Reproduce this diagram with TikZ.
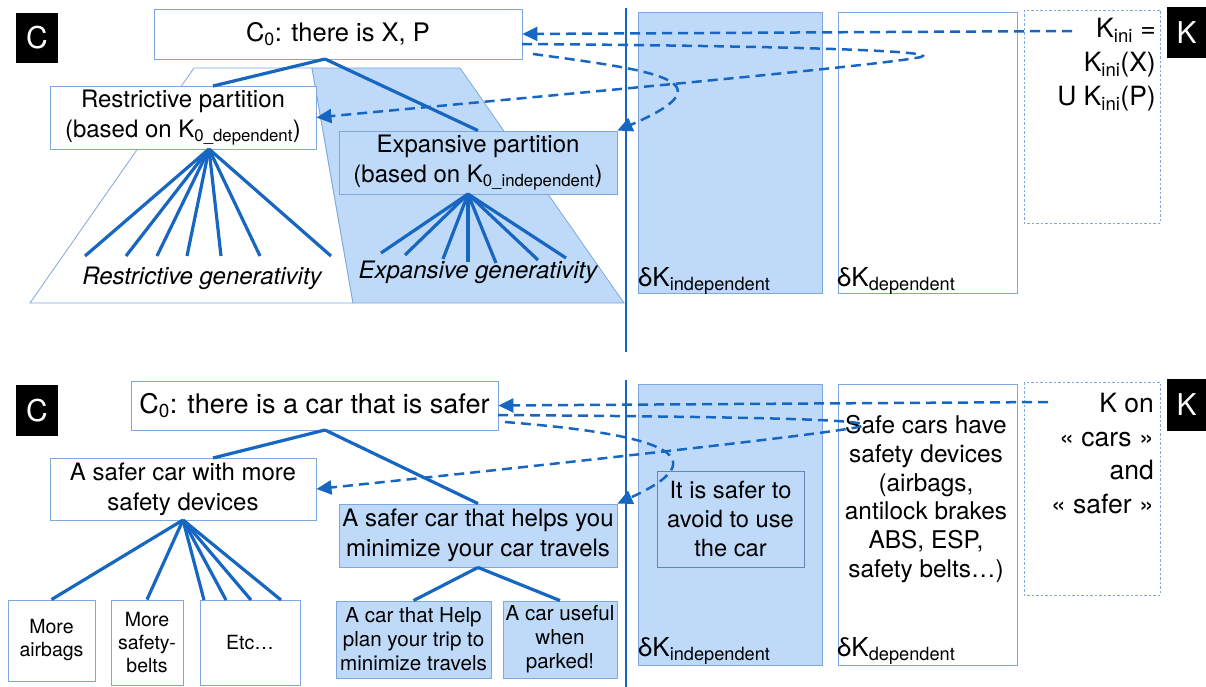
\documentclass[tikz,border=0pt]{standalone}
\usepackage{fontspec}
\setmainfont{TeX Gyre Heros}
\usetikzlibrary{arrows.meta}
\definecolor{lineblue}{RGB}{22,102,194}
\definecolor{fillblue}{RGB}{190,218,248}
\definecolor{borderblue}{RGB}{125,168,222}
\tikzset{
  wbox/.style={draw=borderblue, line width=0.9pt, fill=white, inner sep=0pt, align=center},
  bbox/.style={draw=borderblue, line width=0.9pt, fill=fillblue, inner sep=0pt, align=center},
  blk/.style={fill=black, text=white, inner sep=0pt, font=\fontsize{30}{32}\selectfont},
  solidline/.style={draw=lineblue, line width=3.2pt},
  dashline/.style={draw=lineblue, line width=2.5pt, dash pattern=on 10pt off 6pt},
  dasharrow/.style={dashline, -{Triangle[length=15pt,width=14pt]}},
  kbox/.style={draw=borderblue, line width=0.8pt, dash pattern=on 2.5pt off 2pt},
  t24/.style={font=\fontsize{24}{30}\selectfont},
}
\begin{document}
\begin{tikzpicture}[x=1pt,y=-1pt]
\useasboundingbox (0,0) rectangle (1206,687);
% ================= TOP PANEL =================
\path[draw=borderblue, line width=0.8pt, fill=white] (194,68) -- (312,68) -- (353,303) -- (30,303) -- cycle;
\path[draw=borderblue, line width=0.8pt, fill=fillblue] (312,68) -- (460,68) -- (624,303) -- (353,303) -- cycle;

\node[blk, minimum width=42pt, minimum height=50pt] (ctop) at (37,38) {C};
\node[wbox, font=\fontsize{25.5}{30}\selectfont, minimum width=368pt, minimum height=50pt] (c0t) at (338,34) {C\textsubscript{0}: there is X, P};
\node[wbox, t24, minimum width=266pt, minimum height=63pt] (rp) at (183,117.5) {Restrictive partition\\(based on K\textsubscript{0\_dependent})};
\node[bbox, t24, minimum width=278pt, minimum height=63pt] (ep) at (478,162.5) {Expansive partition\\(based on K\textsubscript{0\_independent})};

\coordinate (c0tb) at (325,59);
\coordinate (rpt) at (213,86);
\draw[solidline] (c0tb) -- (rpt);
\draw[solidline] (c0tb) -- (ep.north);

\coordinate (rpb) at (209,149);
\foreach \x/\y [count=\i] in {85/256,126/256,157/256,187/256,221/256,260/256,331/256}{
  \coordinate (rf\i) at (\x,\y);
  \draw[solidline] (rpb) -- (rf\i);
}
\coordinate (epb) at (468,194);
\foreach \x/\y [count=\i] in {381/253,405/255,443/259,468/262,496/263,538/260,566/258}{
  \coordinate (ef\i) at (\x,\y);
  \draw[solidline] (epb) -- (ef\i);
}
\node[font=\fontsize{24}{28}\selectfont\itshape] (rgen) at (202,278) {Restrictive generativity};
\node[font=\fontsize{24}{28}\selectfont\itshape] (egen) at (478,272) {Expansive generativity};

\draw[draw=lineblue, line width=2pt] (626,8) -- (626,352);

\node[bbox, minimum width=184pt, minimum height=281pt] (dki) at (730,152.5) {};
\node[wbox, minimum width=179pt, minimum height=281pt] (dkd) at (927.5,152.5) {};
\node[anchor=base west, inner sep=0pt, font=\fontsize{26}{30}\selectfont] (dkit) at (638,286) {δK\textsubscript{independent}};
\node[anchor=base west, inner sep=0pt, font=\fontsize{26}{30}\selectfont] (dkdt) at (837,286) {δK\textsubscript{dependent}};

\draw[kbox] (1024,10) rectangle (1160,223);
\node[blk, minimum width=39pt, minimum height=51pt] (ktop) at (1186.5,32.5) {K};
\node[anchor=north east, inner sep=0pt, align=right, font=\fontsize{26.5}{34}\selectfont] (kini) at (1156,18) {K\textsubscript{ini} =\\K\textsubscript{ini}(X)\\U K\textsubscript{ini}(P)};

\coordinate (ka) at (1072,31);
\draw[dasharrow] (ka) -- (c0t.east);
\coordinate (a0) at (522,44);
\draw[dasharrow] (a0) .. controls (800,46) and (940,51) .. (921,57) .. controls (880,66) and (500,100) .. (rp.east);
\coordinate (b0) at (533,54);
\draw[dasharrow] (b0) .. controls (650,70) and (735,80) .. (ep.north east);

% ================= BOTTOM PANEL =================
\node[blk, minimum width=42pt, minimum height=51pt] (cbot) at (37,410.5) {C};
\node[wbox, font=\fontsize{27}{30}\selectfont, minimum width=367pt, minimum height=49pt] (c0b) at (314.5,405.5) {C\textsubscript{0}: there is a car that is safer};
\node[wbox, t24, minimum width=266pt, minimum height=62pt] (sd) at (183,489) {A safer car with more\\safety devices};
\node[bbox, t24, minimum width=278pt, minimum height=63pt] (mt) at (478,535.5) {A safer car that helps you\\minimize your car travels};

\coordinate (c0bb) at (325,430);
\coordinate (sdt) at (213,458);
\draw[solidline] (c0bb) -- (sdt);
\draw[solidline] (c0bb) -- (mt.north);

\node[wbox, font=\fontsize{19.5}{23}\selectfont, minimum width=87pt, minimum height=81pt] (l1) at (51.5,640.5) {More\\airbags};
\node[wbox, font=\fontsize{19.5}{23}\selectfont, minimum width=72pt, minimum height=85pt] (l2) at (147,642.5) {More\\safety-\\belts};
\node[wbox, font=\fontsize{19.5}{23}\selectfont, minimum width=100pt, minimum height=85pt] (l3) at (250,642.5) {Etc…};

\coordinate (sdb) at (183,520);
\draw[solidline] (sdb) -- (l1.north);
\draw[solidline] (sdb) -- (l2.north);
\foreach \x [count=\i] in {204,226,251,281}{
  \coordinate (sf\i) at (\x,600);
  \draw[solidline] (sdb) -- (sf\i);
}

\node[bbox, font=\fontsize{20.6}{24}\selectfont, minimum width=155pt, minimum height=77pt] (b1) at (413.5,639.5) {A car that Help\\plan your trip to\\minimize travels};
\node[bbox, font=\fontsize{20.6}{24}\selectfont, minimum width=114pt, minimum height=77pt] (b2) at (560,639.5) {A car useful\\when\\parked!};
\draw[solidline] (mt.south) -- (b1.north);
\draw[solidline] (mt.south) -- (b2.north);

\draw[draw=lineblue, line width=2pt] (626,380) -- (626,687);

\node[bbox, minimum width=184pt, minimum height=281pt] (dki2) at (730,524.5) {};
\node[wbox, minimum width=179pt, minimum height=281pt] (dkd2) at (927.5,524.5) {};
\node[bbox, draw=borderblue!80!black, font=\fontsize{23.7}{29}\selectfont, minimum width=147pt, minimum height=96pt] (safer) at (730.5,519) {It is safer to\\avoid to use\\the car};
\node[inner sep=0pt, align=center, font=\fontsize{24.4}{28.7}\selectfont] (safe) at (926,499) {Safe cars have\\safety devices\\(airbags,\\antilock brakes\\ABS, ESP,\\safety belts…)};
\node[anchor=base west, inner sep=0pt, font=\fontsize{26}{30}\selectfont] (dkit2) at (638,656) {δK\textsubscript{independent}};
\node[anchor=base west, inner sep=0pt, font=\fontsize{26}{30}\selectfont] (dkdt2) at (837,656) {δK\textsubscript{dependent}};

\draw[kbox] (1024,382) rectangle (1160,595);
\node[blk, minimum width=39pt, minimum height=52pt] (kbot) at (1186.5,405) {K};
\node[anchor=north east, inner sep=0pt, align=right, font=\fontsize{26.5}{33.5}\selectfont] (kon) at (1154,393) {K on\\« cars »\\and\\« safer »};

\coordinate (kb) at (1048,402);
\draw[dasharrow] (kb) -- (c0b.east);
\coordinate (a2) at (498,415);
\draw[dasharrow] (a2) .. controls (780,417) and (875,420) .. (862,426) .. controls (850,432) and (500,470) .. (sd.east);
\coordinate (b2s) at (505,422);
\draw[dasharrow] (b2s) .. controls (630,432) and (735,450) .. (mt.north east);
\end{tikzpicture}
\end{document}
